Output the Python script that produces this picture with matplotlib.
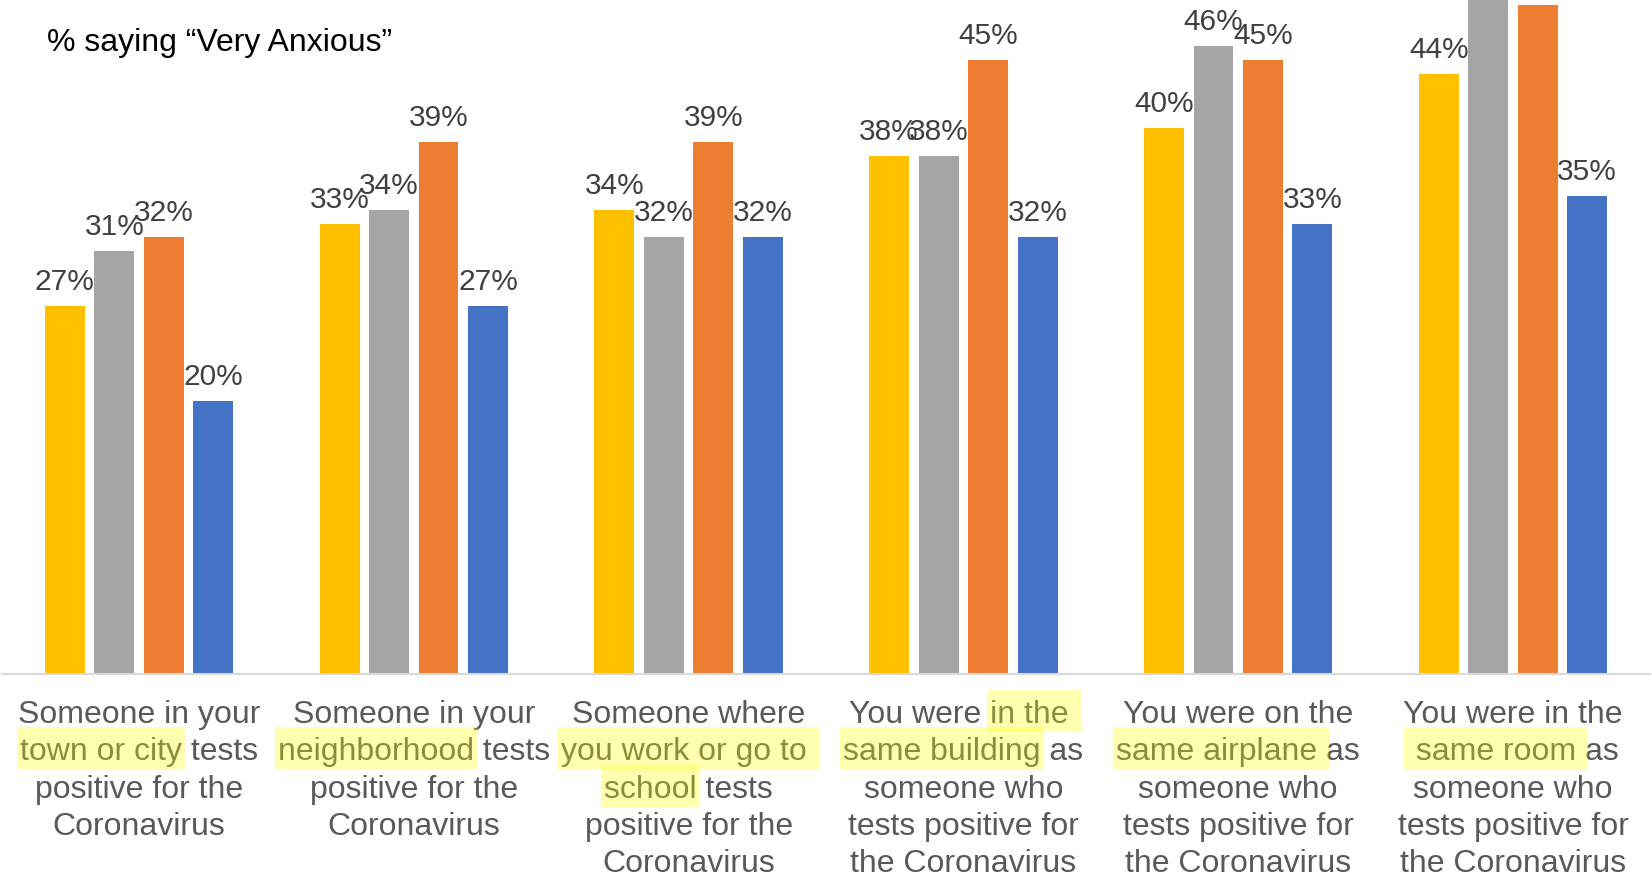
import matplotlib
matplotlib.use("Agg")
import matplotlib.pyplot as plt
from matplotlib.patches import Rectangle
import numpy as np

# ── data ──
series_colors = ["#FFC000", "#A5A5A5", "#ED7D31", "#4472C4"]
vals_yellow = [27, 33, 34, 38, 40, 44]
vals_gray   = [31, 34, 32, 38, 46, 50]
vals_orange = [32, 39, 39, 45, 45, 49]
vals_blue   = [20, 27, 32, 32, 33, 35]
all_series  = [vals_yellow, vals_gray, vals_orange, vals_blue]

# category labels: each line is a list of (text, highlighted)
cat_lines = [
    [[("Someone in your", False)],
     [("town or city", True), (" tests", False)],
     [("positive for the", False)],
     [("Coronavirus", False)]],
    [[("Someone in your", False)],
     [("neighborhood", True), (" tests", False)],
     [("positive for the", False)],
     [("Coronavirus", False)]],
    [[("Someone where", False)],
     [("you work or go to ", True)],
     [("school", True), (" tests", False)],
     [("positive for the", False)],
     [("Coronavirus", False)]],
    [[("You were ", False), ("in the ", True)],
     [("same building", True), (" as", False)],
     [("someone who", False)],
     [("tests positive for", False)],
     [("the Coronavirus", False)]],
    [[("You were on the", False)],
     [("same airplane ", True), ("as", False)],
     [("someone who", False)],
     [("tests positive for", False)],
     [("the Coronavirus", False)]],
    [[("You were in the", False)],
     [(" same room ", True), ("as", False)],
     [("someone who", False)],
     [("tests positive for", False)],
     [("the Coronavirus", False)]],
]

TITLE = "% saying \u201cVery Anxious\u201d"

# ── layout ──
W, H = 1652, 874
DPI = 100
FONT = "Liberation Sans"
BASE_PX = 674          # pixel row of the category axis
BAR_W = 0.145
OFFSETS = [-0.27, -0.09, 0.09, 0.27]
LINE_GAP = 37.3
FIRST_BASELINE = 723
CAT_SIZE = 23
LABEL_SIZE = 21.5

plt.rcParams["font.family"] = [FONT, "DejaVu Sans"]

fig = plt.figure(figsize=(W / DPI, H / DPI), dpi=DPI)
ax = fig.add_axes([0.001, (H - BASE_PX) / H, 0.998, BASE_PX / H])

x = np.arange(len(cat_lines))
for vals, col, off in zip(all_series, series_colors, OFFSETS):
    bars = ax.bar(x + off, vals, width=BAR_W, color=col, zorder=2)
    for b, v in zip(bars, vals):
        ax.annotate(f"{v}%", (b.get_x() + b.get_width() / 2, v),
                    xytext=(0, 11.5), textcoords="offset points",
                    ha="center", va="baseline", fontsize=LABEL_SIZE,
                    color="#404040")

ax.set_xlim(-0.5, len(cat_lines) - 0.5)
ax.set_ylim(0, 49.4)
for s in ["top", "left", "right"]:
    ax.spines[s].set_visible(False)
ax.spines["bottom"].set_color("#D9D9D9")
ax.spines["bottom"].set_linewidth(1.5)
ax.set_xticks([])
ax.set_yticks([])

fig.text(47 / W, 1 - 43 / H, TITLE, ha="left", va="center",
         fontsize=23, color="black")

# ── category labels with highlighted phrases ──
renderer = fig.canvas.get_renderer()


def text_width(s, size):
    # measure with a sentinel so trailing spaces are counted
    t1 = fig.text(0, 0, s + "|", fontsize=size)
    t2 = fig.text(0, 0, "|", fontsize=size)
    w = t1.get_window_extent(renderer).width - t2.get_window_extent(renderer).width
    t1.remove()
    t2.remove()
    return w


x_to_px = lambda xv: ax.transData.transform((xv, 0))[0]

for i, lines in enumerate(cat_lines):
    cx = x_to_px(i)
    for j, pieces in enumerate(lines):
        full = "".join(p for p, _ in pieces)
        base_y = FIRST_BASELINE + j * LINE_GAP
        fig.text(cx / W, 1 - base_y / H, full, ha="center", va="baseline",
                 fontsize=CAT_SIZE, color="#595959", zorder=3)
        total = text_width(full, CAT_SIZE)
        pos = cx - total / 2
        for piece, hl in pieces:
            pw = text_width(piece, CAT_SIZE)
            if hl:
                top = base_y - 33
                bottom = base_y + 9
                fig.patches.append(Rectangle(
                    ((pos - 3) / W, 1 - bottom / H), (pw + 6) / W,
                    (bottom - top) / H, transform=fig.transFigure,
                    facecolor=(1, 1, 0), alpha=0.31, edgecolor="none",
                    zorder=4))
            pos += pw

fig.savefig("out.png", dpi=DPI)
